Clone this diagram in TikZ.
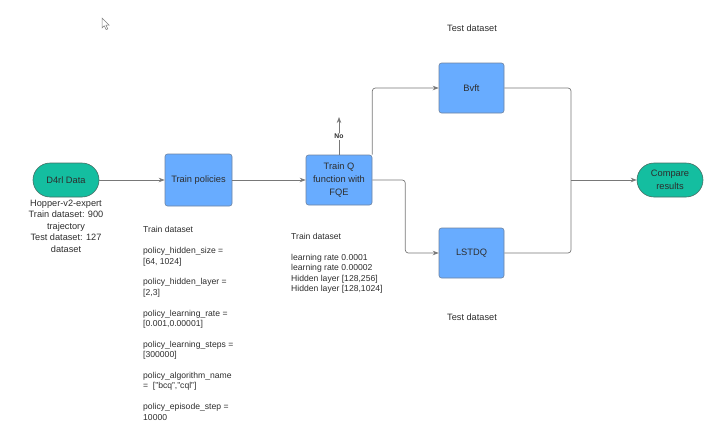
\documentclass[tikz,border=0pt]{standalone}
\usepackage{fontspec}
\setmainfont{Liberation Sans}
\usetikzlibrary{arrows.meta}
\definecolor{boxblue}{RGB}{104,172,255}
\definecolor{boxedge}{RGB}{110,130,160}
\definecolor{pillteal}{RGB}{20,190,160}
\definecolor{pilledge}{RGB}{70,110,100}
\definecolor{linegray}{RGB}{120,120,120}
\definecolor{txt}{RGB}{45,45,45}
\tikzset{
  procbox/.style={draw=boxedge, line width=0.6pt, fill=boxblue, rounded corners=2.5pt,
    minimum width=66pt, minimum height=50pt, align=center, text=txt,
    font=\fontsize{9.3}{13.3}\selectfont, inner sep=1pt},
  pill/.style={draw=pilledge, line width=0.6pt, fill=pillteal, rounded corners=17pt,
    minimum width=66pt, minimum height=34pt, align=center, text=txt,
    font=\fontsize{9.3}{13}\selectfont, inner sep=1pt},
  conn/.style={draw=linegray, line width=0.7pt, rounded corners=3pt},
  arr/.style={conn, -{Stealth[length=6pt,width=4.5pt]}},
  note/.style={text=txt, font=\fontsize{8.6}{10.4}\selectfont, align=left, inner sep=0pt, anchor=north west},
  cnote/.style={text=txt, font=\fontsize{9.2}{11.5}\selectfont, align=center, inner sep=0pt, anchor=north},
}
\begin{document}
\begin{tikzpicture}[x=1pt,y=-1pt]
\useasboundingbox (0,0) rectangle (720,440);
% cursor
\draw[line width=0.5pt, draw=gray, fill=white] (102,18) -- (102,28) -- (104.3,25.8) -- (106.2,29.6) -- (107.8,28.9) -- (106,25.2) -- (109.2,25.2) -- cycle;

\node[pill] (D4) at (66,180) {D4rl Data};
\node[procbox, minimum width=67pt, minimum height=52pt] (TP) at (198.5,180) {Train policies};
\node[procbox] (TQ) at (339,180) {Train Q\\function with\\FQE};
\node[procbox, minimum width=65pt] (BV) at (471.5,88) {Bvft};
\node[procbox, minimum width=65pt] (LS) at (471.5,253) {LSTDQ};
\node[pill] (CR) at (670,180) {Compare\\results};

\coordinate (NoEnd) at (339,117);
\coordinate (J) at (571,180);

\draw[arr] (D4.east) -- (TP.west);
\draw[arr] (TP.east) -- (TQ.west);
\draw[arr] (TQ.north) -- node[pos=0.48, fill=white, inner sep=0.8pt, text=txt, font=\fontsize{6.8}{7}\selectfont\bfseries] {No} (NoEnd);
\draw[arr] (TQ.north east) |- (BV.west);
\draw[arr] (TQ.east) -- ++(33,0) |- (LS.west);
\draw[conn] (BV.east) -| (J);
\draw[conn] (LS.east) -| (J);
\draw[arr] (J) -- (CR.west);

\node[cnote] (D4txt) at (66,199.5) {Hopper-v2-expert\\Train dataset: 900\\trajectory\\Test dataset: 127\\dataset};

\node[note] (T1) at (143,226.5) {Train dataset\\[10.4pt]
policy\_hidden\_size =\\{}[64, 1024]\\[10.4pt]
policy\_hidden\_layer =\\{}[2,3]\\[10.4pt]
policy\_learning\_rate =\\{}[0.001,0.00001]\\[10.4pt]
policy\_learning\_steps =\\{}[300000]\\[10.4pt]
policy\_algorithm\_name\\= \ ["bcq","cql"]\\[10.4pt]
policy\_episode\_step =\\10000};

\node[note, font=\fontsize{8.6}{10.6}\selectfont] (T2) at (291,233) {Train dataset\\[10pt]
learning rate 0.0001\\learning rate 0.00002\\Hidden layer [128,256]\\Hidden layer [128,1024]};

\node[text=txt, font=\fontsize{9.2}{10}\selectfont] (TD1) at (472,28) {Test dataset};
\node[text=txt, font=\fontsize{9.2}{10}\selectfont] (TD2) at (472,317) {Test dataset};
\end{tikzpicture}
\end{document}
